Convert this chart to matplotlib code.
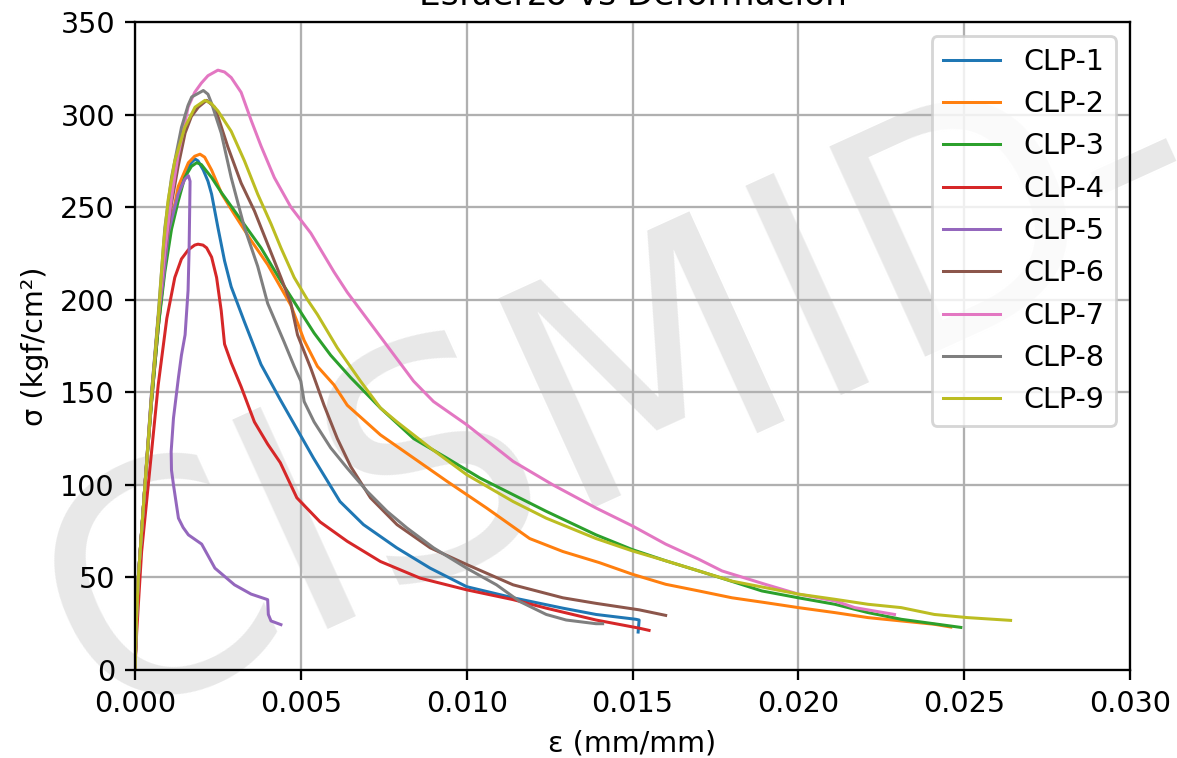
import matplotlib
matplotlib.use("Agg")
import matplotlib.pyplot as plt

# curvas esfuerzo-deformacion (eps en mm/mm, sigma en kgf/cm2)
eps_1 = [0, 0.00005, 0.0001, 0.0003, 0.0005, 0.0007, 0.0009, 0.0011, 0.0013, 0.0015, 0.0017, 0.00181,
         0.0019, 0.00206, 0.0022, 0.00231, 0.0025, 0.0027, 0.0029, 0.0033, 0.0038, 0.00438, 0.00538,
         0.00618, 0.00689, 0.00789, 0.0089, 0.010, 0.0114, 0.0129, 0.0139, 0.0151, 0.0152, 0.01517]
sig_1 = [0, 30, 50, 100, 145, 185, 220, 243, 258, 268, 274, 276,
         275, 270, 264, 257, 239, 221, 207, 188, 165, 146, 114.5,
         91, 78.5, 66, 55, 45, 39, 33.4, 30, 27.4, 27, 20.5]

eps_2 = [0, 0.00005, 0.0001, 0.0003, 0.0005, 0.0007, 0.0009, 0.0011, 0.0013, 0.00161, 0.0018, 0.00196,
         0.0021, 0.00231, 0.00262, 0.003, 0.0035, 0.004, 0.0047, 0.0051, 0.0055, 0.006, 0.0064, 0.0074,
         0.0084, 0.0094, 0.0106, 0.0119, 0.0129, 0.014, 0.015, 0.016, 0.017, 0.018, 0.019,
         0.020, 0.0211, 0.0221, 0.0231, 0.0241, 0.0246]
sig_2 = [0, 30, 50, 100, 145, 185, 218, 242, 261, 274, 277.5, 278.6,
         277, 270, 257, 246, 232, 219, 197, 178, 164, 154, 143, 127,
         114.5, 102, 87.5, 71, 64, 58, 51.7, 46.3, 42.7, 39, 36.4,
         33.7, 31, 28.3, 26.5, 24.7, 23.2]

eps_3 = [0, 0.00005, 0.0001, 0.0003, 0.0005, 0.0007, 0.0009, 0.0011, 0.0013, 0.0015, 0.0017, 0.00186,
         0.002, 0.00231, 0.0026, 0.003, 0.0034, 0.0038, 0.0044, 0.0049, 0.0054, 0.0059, 0.0065, 0.0074,
         0.0084, 0.0094, 0.0104, 0.0114, 0.0124, 0.0139, 0.015, 0.016, 0.017, 0.0178, 0.0189, 0.020,
         0.0211, 0.0221, 0.0231, 0.0249]
sig_3 = [0, 30, 50, 100, 145, 185, 215, 238, 253, 266, 272, 274,
         273, 266, 258, 248, 238, 228, 210, 196, 182, 170, 158, 141.5,
         125, 114.5, 103.7, 94.7, 85.7, 73, 65, 59, 53.5, 49, 42.7, 39,
         35.5, 31, 27.4, 23]

eps_4 = [0, 0.00005, 0.0001, 0.0002, 0.0004, 0.0007, 0.00096, 0.0012, 0.0014, 0.00161, 0.0018, 0.0019,
         0.00205, 0.00216, 0.00231, 0.00246, 0.0026, 0.0027, 0.0029, 0.0032, 0.0036, 0.004, 0.00438,
         0.00488, 0.00558, 0.0064, 0.0074, 0.0086, 0.010, 0.0114, 0.0124, 0.0139, 0.0152, 0.0155]
sig_4 = [0, 20, 35, 64, 100, 154, 190, 212, 222, 227, 229.5, 230,
         229.5, 228, 223, 212, 194, 176, 166, 153, 134, 122, 112,
         93, 80, 69.5, 58.6, 49.6, 43.3, 38, 33.4, 27, 22.6, 21.4]

eps_5 = [0, 0.00005, 0.0001, 0.0003, 0.0005, 0.0007, 0.00086, 0.001, 0.0013, 0.0015, 0.00161, 0.00166,
         0.00165, 0.00163, 0.0016, 0.00151, 0.0014, 0.00131, 0.00116, 0.00109, 0.0011, 0.00116, 0.00131,
         0.00145, 0.00161, 0.00201, 0.00241, 0.003, 0.0035, 0.004, 0.00402, 0.0041, 0.0044]
sig_5 = [0, 30, 50, 100, 150, 190, 212, 236, 257, 265, 267, 264,
         250, 226, 205, 181, 170, 158, 136, 118, 108, 100, 82,
         77, 73, 68, 55, 46, 41, 38, 30, 26.5, 24.5]

eps_6 = [0, 0.00005, 0.0001, 0.0003, 0.0005, 0.0007, 0.0009, 0.0011, 0.0013, 0.00151, 0.0017, 0.00191,
         0.00216, 0.0024, 0.0025, 0.0028, 0.0032, 0.0036, 0.004, 0.0044, 0.0047, 0.0049, 0.0053, 0.0057,
         0.0061, 0.0065, 0.0071, 0.0079, 0.0089, 0.010, 0.0114, 0.0129, 0.0139, 0.0152, 0.016]
sig_6 = [0, 30, 50, 100, 148, 190, 225, 252, 272, 290, 299, 304,
         307.7, 304, 299, 282.5, 263, 248, 230, 212, 198, 181, 163, 143,
         125, 110, 93, 78.5, 66, 57, 46, 39, 36, 32.5, 29.5]

eps_7 = [0, 0.00005, 0.0001, 0.0003, 0.0005, 0.0007, 0.0009, 0.0011, 0.0013, 0.0016, 0.0018, 0.002,
         0.0022, 0.0025, 0.0027, 0.0029, 0.0032, 0.0035, 0.0038, 0.0042, 0.0047, 0.0053, 0.006, 0.0064,
         0.0069, 0.0079, 0.0084, 0.009, 0.010, 0.0114, 0.0126, 0.0139, 0.015, 0.016, 0.017, 0.0177,
         0.019, 0.020, 0.0211, 0.0217, 0.0229]
sig_7 = [0, 30, 50, 100, 148, 190, 226, 255, 278, 304, 312, 317,
         321, 324, 323, 320, 312, 297, 283, 266, 250, 236, 215, 204,
         192, 168, 156, 145, 132.5, 112.7, 100, 87.5, 77.8, 68, 59.8, 53.5,
         46.3, 41, 37.3, 33.7, 30]

eps_8 = [0, 0.00005, 0.0001, 0.0003, 0.0005, 0.0007, 0.0009, 0.0011, 0.0014, 0.0016, 0.00171, 0.00206,
         0.0022, 0.00231, 0.0026, 0.0029, 0.0033, 0.0037, 0.004, 0.0045, 0.0048, 0.005, 0.0051, 0.0054,
         0.0059, 0.0064, 0.007, 0.0076, 0.0082, 0.009, 0.010, 0.0109, 0.0116, 0.0124, 0.013, 0.0139, 0.0141]
sig_8 = [0, 30, 50, 100, 150, 192, 239, 266, 293, 305, 309.5, 313,
         311, 306, 290, 266, 239, 218, 198, 177, 164, 156, 145, 134,
         120, 109, 96.5, 85.7, 76.7, 66, 55, 46, 37, 30, 27, 25, 25]

eps_9 = [0, 0.00005, 0.0001, 0.0003, 0.0005, 0.0007, 0.00086, 0.001, 0.0012, 0.0015, 0.00181, 0.00211,
         0.0023, 0.0025, 0.0029, 0.0033, 0.0037, 0.0041, 0.0044, 0.0048, 0.0052, 0.0055, 0.0061, 0.0068,
         0.0074, 0.0079, 0.0089, 0.010, 0.0114, 0.0124, 0.0139, 0.015, 0.016, 0.017, 0.018, 0.019,
         0.020, 0.0211, 0.0221, 0.0231, 0.0241, 0.0251, 0.0264]
sig_9 = [0, 30, 50, 100, 148, 190, 230, 254, 275, 293, 304, 307.7,
         306, 302, 291, 275, 257, 241, 228, 212, 200, 192, 174, 156,
         141.5, 134, 120, 105.5, 91, 82, 71, 64.3, 59, 53.5, 48, 44.5,
         41, 38.2, 35.5, 33.7, 30, 28.3, 26.8]

labels = ['CLP-1', 'CLP-2', 'CLP-3', 'CLP-4', 'CLP-5', 'CLP-6', 'CLP-7', 'CLP-8', 'CLP-9']
curves = [(eps_1, sig_1), (eps_2, sig_2), (eps_3, sig_3), (eps_4, sig_4), (eps_5, sig_5),
          (eps_6, sig_6), (eps_7, sig_7), (eps_8, sig_8), (eps_9, sig_9)]

dpi = 206
W, H = 1177, 758
fig = plt.figure(figsize=(W / dpi, H / dpi), dpi=dpi)
fig.patch.set_facecolor('white')
ax = fig.add_axes([135 / W, 88 / H, 995 / W, 648 / H])
ax.set_facecolor('none')

# marca de agua, detras de los ejes
fig.text(99 / W, 33 / H, 'CISMID-', fontsize=110, color='#e8e8e8',
         rotation=24.5, rotation_mode='anchor', ha='left', va='baseline', zorder=-1)

for (e, s), lab in zip(curves, labels):
    ax.plot(e, s, lw=1.05, label=lab)

ax.set_xlim(0, 0.03)
ax.set_ylim(0, 350)
ax.grid(True)
ax.set_xlabel('ε (mm/mm)')
ax.set_ylabel('σ (kgf/cm²)')
ax.set_title('Esfuerzo vs Deformación')
ax.legend(loc='upper right')

fig.savefig('out.png', dpi=dpi)
